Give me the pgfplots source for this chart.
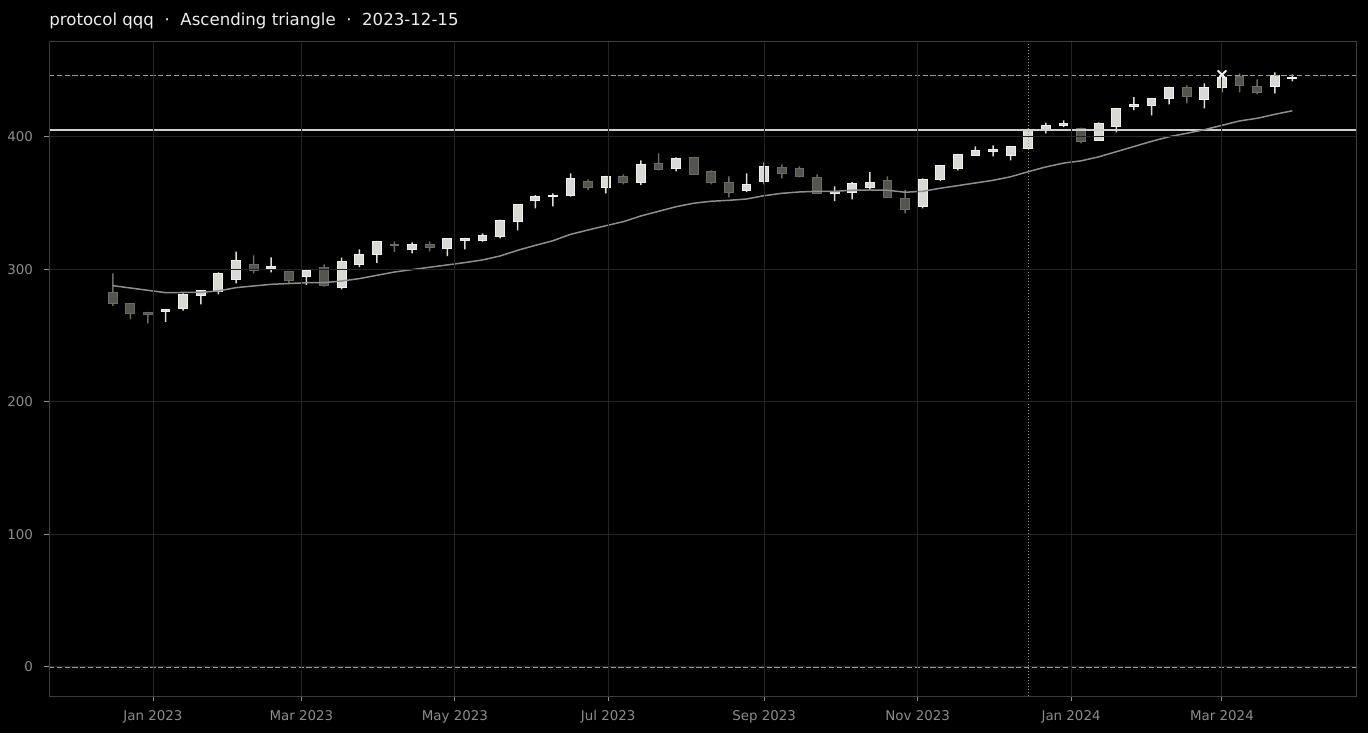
\documentclass[border=0pt]{standalone}
\usepackage{fontspec}
\setmainfont{DejaVu Sans}
\usepackage{pgfplots}
\pgfplotsset{compat=1.18}
\usepackage{pgfplotstable}

\definecolor{upfill}{HTML}{D9D9D3}
\definecolor{upedge}{HTML}{F0F0EC}
\definecolor{upwick}{HTML}{DCDCD8}
\definecolor{dnfill}{HTML}{55554F}
\definecolor{dnedge}{HTML}{6B6B66}
\definecolor{ticklab}{HTML}{8C8C8C}
\definecolor{framecol}{HTML}{3C3C3C}
\definecolor{gridcol}{HTML}{242424}
\definecolor{macol}{HTML}{8E8E8E}
\definecolor{rescol}{HTML}{CFCFCF}
\definecolor{dashcol}{HTML}{9A9A9A}
\definecolor{titlecol}{HTML}{EDEDED}

% d = days since 2023-01-01; t/b = body top/bottom; h/l = high/low
\pgfplotstableread{
d t b h l
5 269.7 268.4 270.0 260.4
12 281.3 270.7 282.0 268.9
19 283.8 280.5 284.5 273.7
26 297.1 283.3 297.9 281.3
33 306.9 292.6 313.4 289.6
47 301.9 300.6 309.2 297.9
61 299.6 294.6 300.0 288.3
75 306.2 286.5 309.0 285.0
82 311.5 303.9 315.2 301.7
89 321.3 311.5 321.6 304.9
103 319.0 315.2 320.5 312.2
117 323.3 316.0 323.6 310.0
124 323.5 322.0 323.8 315.2
131 325.8 321.7 327.3 321.0
138 337.0 324.8 337.7 323.5
145 349.2 336.1 349.5 329.5
152 355.2 352.2 356.2 346.2
159 355.8 355.2 357.5 347.7
166 368.8 355.7 372.6 355.0
180 370.3 362.0 370.6 357.5
194 379.4 365.8 382.4 363.6
208 383.9 376.4 384.7 374.1
236 364.3 359.8 372.6 358.3
243 377.9 366.6 380.9 364.3
271 359.0 357.0 362.8 351.5
278 365.0 358.3 366.0 353.0
285 365.8 362.0 373.4 360.5
306 368.0 347.7 368.8 346.2
313 378.6 368.0 378.9 366.6
320 386.9 376.4 387.2 374.8
327 389.9 386.2 392.9 385.9
334 390.7 389.2 393.7 385.4
341 392.9 386.2 393.2 382.4
348 405.8 391.5 406.5 391.0
355 408.8 405.0 410.6 402.8
362 410.4 408.8 412.6 407.5
376 410.4 397.5 411.1 397.0
383 421.6 408.1 421.9 403.5
390 424.7 423.2 430.0 420.2
397 429.2 424.0 429.5 416.4
404 437.5 429.2 437.8 424.7
418 437.5 428.5 440.5 421.6
425 445.0 437.5 446.5 433.7
446 446.5 438.2 448.8 433.0
453 445.0 443.8 447.3 442.0
}\uptable

\pgfplotstableread{
d t b h l
-16 282.8 274.5 297.1 272.5
-9 274.5 267.0 274.8 262.4
-2 267.7 266.4 268.0 259.4
40 303.9 299.6 310.7 297.1
54 298.1 291.8 298.5 289.3
68 301.7 287.8 303.9 287.0
96 318.5 317.8 321.3 313.2
110 319.0 316.8 321.3 313.7
173 366.6 362.0 368.0 359.8
187 370.3 365.8 371.8 364.3
201 380.1 375.6 387.7 374.8
215 384.7 371.8 385.0 371.5
222 374.1 365.8 374.8 364.3
229 365.8 358.3 370.3 354.5
250 377.1 372.6 379.4 368.8
257 376.4 370.3 377.9 369.6
264 369.6 357.5 371.8 357.2
292 367.3 354.5 370.3 354.2
299 353.7 345.4 359.8 342.4
369 406.6 396.8 407.0 395.2
411 437.5 430.7 439.0 425.4
432 445.8 439.0 448.0 433.7
439 438.2 433.7 443.5 432.2
}\dntable

\pgfplotstableread{
d v
-16 287.8
5 282.5
19 282.8
26 283.8
33 286.3
47 288.8
61 290.0
68 290.0
75 291.3
82 293.1
96 298.1
110 301.7
124 305.2
131 307.2
138 310.2
145 314.5
152 318.2
159 321.7
166 326.5
173 329.8
180 333.0
187 336.1
194 340.4
201 343.9
208 347.4
215 350.0
222 351.5
229 352.2
236 353.2
243 355.7
250 357.5
257 358.5
264 359.0
271 359.0
278 359.8
285 360.0
292 359.8
299 358.3
306 359.0
313 361.3
320 363.3
327 365.3
334 367.3
341 370.0
348 373.8
355 377.4
362 380.3
369 382.0
376 385.0
383 388.9
390 392.8
397 396.7
404 400.2
411 402.8
418 405.5
425 408.8
432 412.1
439 414.1
446 417.1
453 419.8
}\matable

\pgfplotsset{
  basefr/.style={at={(24.5pt,18.5pt)}, anchor=south west,
    scale only axis, width=653.5pt, height=327pt,
    xmin=-41.35, xmax=478.3, ymin=-21.9, ymax=471.7},
  overlay/.style={basefr, hide axis, ybar stacked, clip=true},
}

\begin{document}
\begin{tikzpicture}[x=1pt,y=1pt]
\fill[black] (0,0) rectangle (684,366.5);
\path[use as bounding box] (0,0) rectangle (684,366.5);
\node[anchor=west, inner sep=0pt, text=titlecol, font=\fontsize{8.3}{10}\selectfont] at (24.5,356) {protocol qqq\ \ ·\ \ Ascending triangle\ \ ·\ \ 2023-12-15};
% down wicks
\begin{axis}[overlay, bar width=0.6]
\addplot[draw=none, fill=none] table[x=d, y=l] {\dntable};
\addplot[draw=none, fill=dnedge] table[x=d, y expr={\thisrow{h}-\thisrow{l}}] {\dntable};
\end{axis}
% up wicks
\begin{axis}[overlay, bar width=0.6]
\addplot[draw=none, fill=none] table[x=d, y=l] {\uptable};
\addplot[draw=none, fill=upwick] table[x=d, y expr={\thisrow{h}-\thisrow{l}}] {\uptable};
\end{axis}
% down bodies
\begin{axis}[overlay, bar width=3.5]
\addplot[draw=none, fill=none] table[x=d, y=b] {\dntable};
\addplot[draw=dnedge, fill=dnfill, line width=0.5pt] table[x=d, y expr={\thisrow{t}-\thisrow{b}}] {\dntable};
\end{axis}
% up bodies
\begin{axis}[overlay, bar width=3.5]
\addplot[draw=none, fill=none] table[x=d, y=b] {\uptable};
\addplot[draw=upedge, fill=upfill, line width=0.5pt] table[x=d, y expr={\thisrow{t}-\thisrow{b}}] {\uptable};
\end{axis}
% main axis with lines
\begin{axis}[
  basefr,
  axis on top,
  axis line style={draw=framecol, line width=0.5pt},
  tick align=outside, major tick length=2.5pt,
  xtick pos=bottom, ytick pos=left,
  major tick style={draw=ticklab, line width=0.5pt},
  xtick={0,59,120,181,243,304,365,425},
  xticklabels={Jan 2023,Mar 2023,May 2023,Jul 2023,Sep 2023,Nov 2023,Jan 2024,Mar 2024},
  ytick={0,100,200,300,400},
  /pgf/number format/assume math mode=true,
  ticklabel style={text=ticklab, font=\fontsize{6.7}{8}\selectfont, inner sep=0pt},
  xticklabel style={anchor=north, yshift=-4.4pt},
  yticklabel style={anchor=east, xshift=-5.3pt},
  grid=major, major grid style={draw=gridcol, line width=0.5pt},
  clip=true,
]
\addplot[draw=dashcol, line width=0.7pt, dash pattern=on 2.6pt off 1.3pt] coordinates {(-41.35,0) (478.3,0)};
\addplot[draw=dashcol, line width=0.7pt, dash pattern=on 2.6pt off 1.3pt] coordinates {(-41.35,446.3) (478.3,446.3)};
\addplot[draw=rescol, line width=1pt] coordinates {(-41.35,405.3) (478.3,405.3)};
\addplot[draw=dashcol, line width=0.5pt, dash pattern=on 0.5pt off 1pt] coordinates {(348,-21.9) (348,471.7)};
\addplot[draw=macol, line width=0.75pt] table[x=d, y=v] {\matable};
\addplot[only marks, mark=x, mark size=3pt, mark options={draw=titlecol, line width=1pt}] coordinates {(425,447)};
\end{axis}
\end{tikzpicture}
\end{document}
